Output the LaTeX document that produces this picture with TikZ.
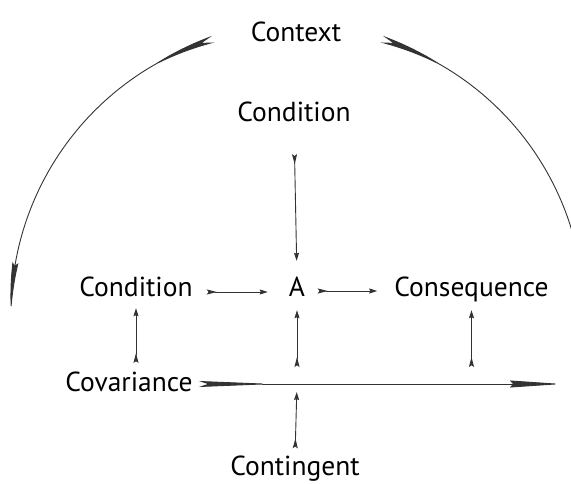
\documentclass[tikz,border=0pt]{standalone}
\usepackage{fontspec}
\setmainfont{PT Sans}
\usetikzlibrary{arrows.meta,bending,calc}
\begin{document}
\begin{tikzpicture}[x=1pt,y=1pt,
  lbl/.style={inner sep=0pt, anchor=base, text height=19pt, text depth=6pt, font=\fontsize{27.5}{32}\selectfont},
  conn/.style={draw=black!80, line width=0.9pt,
    arrows={Stealth[reversed,length=10pt,width=5pt,inset=1.8pt]-Stealth[length=8pt,width=5pt,inset=1pt]}},
  longarc/.style={draw=black!80, line width=0.9pt}
]
\useasboundingbox (0,0) rectangle (571,483);
\fill[white] (0,0) rectangle (571,483);
\clip (0,0) rectangle (571,483);

% nodes
\node[lbl] (ctx)   at (296,441) {Context};
\node[lbl] (condT) at (294,361) {Condition};
\node[lbl] (condL) at (136,186) {Condition};
\node[lbl] (A)     at (297,186) {A};
\node[lbl] (cons)  at (471.5,186) {Consequence};
\node[lbl] (cov)   at (129,92) {Covariance};
\node[lbl] (cont)  at (295,7.5) {Contingent};

% centre of the big circle
\coordinate (O) at (297.5,170);
\coordinate (covEnd) at (562,99);
\coordinate (cvL) at (condL.south |- covEnd);
\coordinate (cvA) at (A.south |- covEnd);
\coordinate (cvR) at (cons.south |- covEnd);

% arcs from Context
\draw[longarc, arrows={Stealth[reversed,bend,length=72pt,width=7pt,inset=12pt]-Stealth[bend,length=52pt,width=6pt,inset=3pt]}]
  ($(O)+(107.1:286.5)$) arc[start angle=107.1, end angle=180.2, radius=286.5];
\draw[longarc, arrows={Stealth[reversed,bend,length=72pt,width=7pt,inset=12pt]-}]
  ($(O)+(72.9:286.5)$) arc[start angle=72.9, end angle=2, radius=286.5];

% straight connectors
\draw[conn, shorten <=26pt, shorten >=17pt] (condT.south) -- (A.north);
\draw[conn, shorten <=14pt, shorten >=21pt] (condL.east |- 0,191) -- (A.west |- 0,191);
\draw[conn, shorten <=12.5pt, shorten >=17pt] (A.east |- 0,192) -- (cons.west |- 0,192);

\draw[conn, shorten <=21pt, shorten >=5pt] (cvL) -- (condL.south);
\draw[conn, shorten <=17pt, shorten >=7pt] (cvA) -- (A.south);
\draw[conn, shorten <=17pt, shorten >=7pt] (cvR) -- (cons.south);

\draw[longarc, shorten <=6pt, arrows={Stealth[reversed,length=75pt,width=6pt,inset=9pt]-Stealth[length=52pt,width=7pt,inset=3pt]}]
  (cov.east |- covEnd) -- (covEnd);
\draw[conn, shorten <=8pt, shorten >=8pt] (cont.north) -- (cvA);
\end{tikzpicture}
\end{document}
